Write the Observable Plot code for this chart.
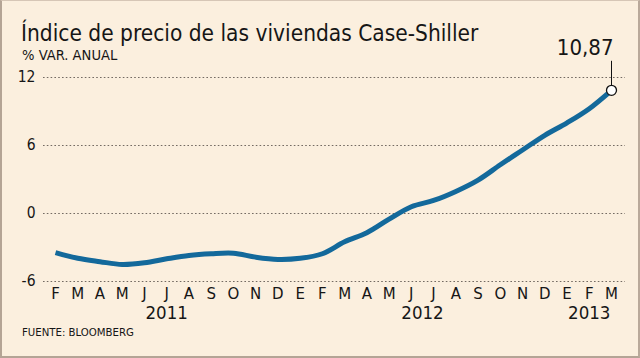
<!DOCTYPE html>
<html><head><meta charset="utf-8">
<script src="https://cdn.jsdelivr.net/npm/d3@7"></script>
<script src="https://cdn.jsdelivr.net/npm/@observablehq/plot@0.6"></script>
<style>
html,body{margin:0;padding:0;background:#fff}
#chart{position:relative;width:640px;height:358px;background:#fbefde;overflow:hidden;font-family:"DejaVu Sans Condensed","DejaVu Sans",sans-serif;color:#161616}
#chart .title{position:absolute;left:21px;top:21.5px;font-size:22.5px;line-height:1;white-space:nowrap}
#chart .sub{position:absolute;left:22px;top:48px;font-size:14.6px;line-height:1;white-space:nowrap}
#chart .src{position:absolute;left:22px;top:327px;font-size:11.3px;line-height:1;white-space:nowrap}
#plot{position:absolute;left:0;top:62px}
#chart .frame{position:absolute;inset:0;border-left:2px solid #b4a495;border-right:2px solid #b9a99a;border-bottom:2px solid #b4a495;border-top:1px solid #d6c6b6;pointer-events:none}
</style></head><body>
<div id="chart">
<div class="title">Índice de precio de las viviendas Case-Shiller</div>
<div class="sub">% VAR. ANUAL</div>
<div id="plot"></div>
<div class="src">FUENTE: BLOOMBERG</div>
<div class="frame"></div>
</div>
<script>
const monthLetters = ["F","M","A","M","J","J","A","S","O","N","D","E","F","M","A","M","J","J","A","S","O","N","D","E","F","M"];
const monthYears = [2011,2011,2011,2011,2011,2011,2011,2011,2011,2011,2011,2012,2012,2012,2012,2012,2012,2012,2012,2012,2012,2012,2012,2013,2013,2013];
const values = [-3.45,-3.95,-4.25,-4.5,-4.35,-4.0,-3.7,-3.55,-3.5,-3.85,-4.05,-3.95,-3.55,-2.5,-1.7,-0.5,0.6,1.15,1.95,2.95,4.3,5.6,6.9,8.0,9.25,10.87];
const yTicks = [-6, 0, 6, 12];
const lastLabel = "10,87";

const data = monthLetters.map((m, i) => ({i, m, year: monthYears[i], v: values[i]}));
const yearCenters = d3.rollups(data, g => d3.mean(g, d => d.i), d => d.year).map(([year, x]) => ({year: String(year), x}));
const last = data[data.length - 1];
const cond = "DejaVu Sans Condensed, DejaVu Sans, sans-serif";

const chart = Plot.plot({
  width: 640, height: 264,
  marginLeft: 55, marginRight: 29, marginTop: 15, marginBottom: 45,
  x: {domain: [0, 25], axis: null, label: null},
  y: {domain: [-6, 12], axis: null, label: null},
  style: {background: "transparent", overflow: "visible", fontFamily: cond, color: "#161616"},
  marks: [
    Plot.ruleY(yTicks, {stroke: "#736a62", strokeWidth: 1, strokeDasharray: "1.6,2.2", insetLeft: -12, insetRight: -14}),
    Plot.axisY(yTicks, {label: null, tickSize: 0, tickPadding: 20, fontSize: 15.5, fontFamily: cond, tickFormat: d => String(d)}),
    Plot.axisX(data.map(d => d.i), {label: null, tickSize: 0, tickPadding: 7, tickFormat: i => monthLetters[i], fontSize: 15, fontFamily: "DejaVu Sans, sans-serif"}),
    Plot.text(yearCenters, {x: "x", text: "year", frameAnchor: "bottom", dy: 32, lineAnchor: "middle", fontSize: 18.5, fontFamily: cond}),
    Plot.line(data, {x: "i", y: "v", stroke: "#13699b", strokeWidth: 5, curve: "catmull-rom", strokeLinecap: "butt"}),
    Plot.ruleX([last], {x: "i", y1: "v", y2: "v", insetBottom: 29, stroke: "#111", strokeWidth: 1}),
    Plot.dot([last], {x: "i", y: "v", r: 5, fill: "#fff", stroke: "#111", strokeWidth: 1.3}),
    Plot.text([last], {x: "i", y: "v", text: () => lastLabel, textAnchor: "end", dx: 2, dy: -42, lineAnchor: "middle", fontSize: 22, fontFamily: cond})
  ]
});
document.getElementById("plot").append(chart);
</script>
</body></html>
